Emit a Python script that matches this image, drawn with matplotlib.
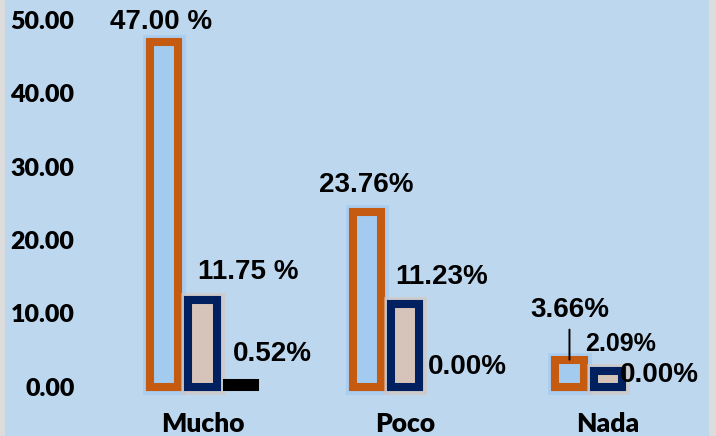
import matplotlib
matplotlib.use("Agg")
import matplotlib.pyplot as plt
import matplotlib.patheffects as pe
from matplotlib.patches import Rectangle
import numpy as np

# ---- data ----
categories = ["Mucho", "Poco", "Nada"]
series_a = [47.00, 23.76, 3.66]   # orange outline bars
series_b = [11.75, 11.23, 2.09]   # navy outline bars
series_c = [0.52, 0.00, 0.00]     # black bars
labels_a = ["47.00 %", "23.76%", "3.66%"]
labels_b = ["11.75 %", "11.23%", "2.09%"]
labels_c = ["0.52%", "0.00%", "0.00%"]
yticks = [0, 10, 20, 30, 40, 50]

# ---- style ----
BG = "#BDD7EE"
ORANGE = "#C55A11"
ORANGE_FILL = "#A3CBF0"
NAVY = "#002060"
TAN = "#D6C4BA"
W, H, DPI = 716, 436, 100

fig = plt.figure(figsize=(W / DPI, H / DPI), dpi=DPI)
fig.patch.set_facecolor("#DCDCDC")
fig.patches.append(Rectangle((5 / W, 0), (709 - 5) / W, 1, transform=fig.transFigure,
                             facecolor=BG, edgecolor="none", zorder=-10))

# axes: y=0 at px 386.5, y=50 at px 20 ; x=0 at px 202.5, 202.75 px/unit
left_px, right_px = 80, 705
ax = fig.add_axes([left_px / W, (H - 386.5) / H, (right_px - left_px) / W, (386.5 - 20) / H])
ax.set_facecolor("none")
ax.set_zorder(5)
x0_px, ppu = 202.5, 202.75
ax.set_xlim((left_px - x0_px) / ppu, (right_px - x0_px) / ppu)
ax.set_ylim(0, 50)
for s in ax.spines.values():
    s.set_visible(False)

x = np.arange(len(categories))
off = 0.19
bw = 0.14
lw = 5.8  # points

def glow(color):
    return [pe.withStroke(linewidth=lw + 5, foreground=color, alpha=0.55)]

ba = ax.bar(x - off, series_a, width=bw, facecolor=ORANGE_FILL, edgecolor=ORANGE,
            linewidth=lw, clip_on=False, zorder=3)
bb = ax.bar(x, series_b, width=bw, facecolor=TAN, edgecolor=NAVY,
            linewidth=lw, clip_on=False, zorder=3)
bc = ax.bar(x + off, series_c, width=bw, facecolor="black", edgecolor="black",
            linewidth=[lw if v > 0 else 0 for v in series_c], clip_on=False, zorder=3)
for r in ba:
    r.set_path_effects(glow("#9DC8F2") + [pe.Normal()])
for r in bb:
    r.set_path_effects(glow("#D9C2B4") + [pe.Normal()])

# ---- labels ----
lab_font = dict(family="Liberation Sans", fontweight="bold", fontsize=20, color="black")
offs_a = [(-2.5, 20), (0, 27), (0, 50)]
offs_b = [(45.5, 28), (36, 27), (13, 27)]
offs_c = [(31, 28.5), (24, 20), (12.5, 11.5)]
size_b = [20, 20, 18]

for i in range(len(categories)):
    if i == 2:
        ax.annotate(labels_a[i], xy=(x[i] - off, series_a[i]), xytext=offs_a[i],
                    textcoords="offset pixels", ha="center", va="center",
                    arrowprops=dict(arrowstyle="-", color="black", lw=1.4,
                                    shrinkA=3, shrinkB=0),
                    annotation_clip=False, zorder=5, **lab_font)
    else:
        ax.annotate(labels_a[i], xy=(x[i] - off, series_a[i]), xytext=offs_a[i],
                    textcoords="offset pixels", ha="center", va="center",
                    annotation_clip=False, zorder=5, **lab_font)
    fb = dict(lab_font); fb["fontsize"] = size_b[i]
    ax.annotate(labels_b[i], xy=(x[i], series_b[i]), xytext=offs_b[i],
                textcoords="offset pixels", ha="center", va="center",
                annotation_clip=False, zorder=5, **fb)
    ax.annotate(labels_c[i], xy=(x[i] + off, series_c[i]), xytext=offs_c[i],
                textcoords="offset pixels", ha="center", va="center",
                annotation_clip=False, zorder=5, **lab_font)

# ---- axes ticks ----
ax.set_yticks(yticks)
ax.set_yticklabels([f"{v:.2f}" for v in yticks], family="Lato", fontweight="heavy",
                   fontsize=18)
ax.set_xticks(x)
ax.set_xticklabels(categories, family="Lato", fontweight="heavy", fontsize=19)
ax.tick_params(axis="y", length=0, pad=4.0)
ax.tick_params(axis="x", length=0, pad=18)

fig.savefig("out.png", dpi=DPI, facecolor=fig.get_facecolor())
